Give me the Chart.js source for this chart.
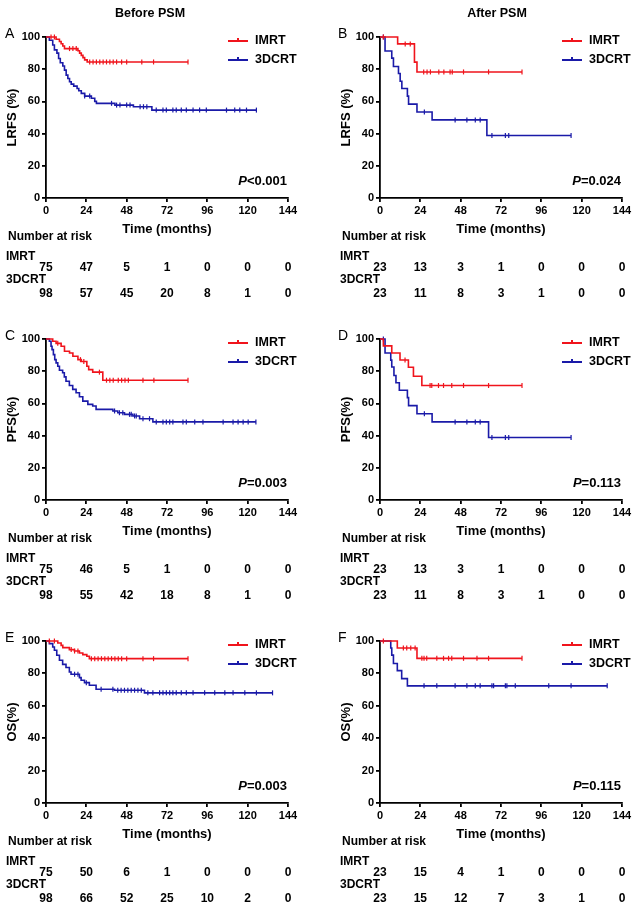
<!DOCTYPE html>
<html><head><meta charset="utf-8">
<script src="https://cdn.jsdelivr.net/npm/chart.js@4.4.1/dist/chart.umd.min.js"></script>
<style>
html,body{margin:0;padding:0;background:#fff;}
#wrap{position:relative;width:640px;height:909px;overflow:hidden;background:#fff;}
.cell{position:absolute;width:320px;}
canvas{display:block;}
</style></head><body>
<div id="wrap">
<div class="cell" style="left:0;top:0"><canvas id="cA" width="320" height="302"></canvas></div>
<div class="cell" style="left:320px;top:0"><canvas id="cB" width="320" height="302"></canvas></div>
<div class="cell" style="left:0;top:302px"><canvas id="cC" width="320" height="302"></canvas></div>
<div class="cell" style="left:320px;top:302px"><canvas id="cD" width="320" height="302"></canvas></div>
<div class="cell" style="left:0;top:604px"><canvas id="cE" width="320" height="305"></canvas></div>
<div class="cell" style="left:320px;top:604px"><canvas id="cF" width="320" height="305"></canvas></div>
</div>
<script>
const FONT = "'Liberation Sans', Arial, sans-serif";
const timeTicks = [0, 24, 48, 72, 96, 120, 144];
const survTicks = [0, 20, 40, 60, 80, 100];
const groups = ['IMRT', '3DCRT'];
const RED = '#f0141c', BLUE = '#1a1aa8';

// Panel A (LRFS, before PSM)
const A_imrtT = [6, 8, 9, 10, 11, 19, 20, 21, 22, 23, 24.5];
const A_imrtS = [98.6, 97.2, 95.8, 94.4, 92.8, 91.5, 90.0, 88.6, 87.2, 85.8, 84.5];
const A_imrtCens = [3, 5, 14, 16, 18, 26, 28, 30, 32, 34, 36, 38, 40, 42, 45, 48, 57, 64, 84.5];
const A_3dT = [2, 4, 5, 6.5, 7.5, 8.5, 10, 11, 12, 13, 14, 15, 16.5, 18.5, 19.5, 21, 23, 27, 29, 30, 41, 52, 63];
const A_3dS = [98, 95, 92, 90, 86.6, 84, 82, 79.4, 76.3, 74.2, 72.2, 70.7, 69.5, 68, 66.6, 65, 63.3, 62, 60, 58.8, 57.7, 56.7, 54.6];
const A_3dCens = [23, 26, 39, 42, 44, 48, 50, 56, 58, 60, 65.6, 69.6, 71.6, 75.5, 77.5, 80.5, 83.5, 87.5, 91.4, 95.4, 107.4, 112.3, 115.3, 119.3, 125.2];
const A_riskIMRT = [75, 47, 5, 1, 0, 0, 0];
const A_risk3D = [98, 57, 45, 20, 8, 1, 0];

// Panel B (LRFS, after PSM)
const B_imrtT = [10.5, 20.5, 22];
const B_imrtS = [95.7, 84.4, 78.3];
const B_imrtCens = [2, 15, 18, 26, 28, 30, 35, 38, 41.7, 43, 49.7, 64.6, 84.5];
const B_3dT = [3, 7, 8, 11, 12, 13, 16.3, 17, 22, 31, 63.6];
const B_3dS = [91.3, 86.9, 81.7, 77.3, 72.5, 68.0, 63.3, 58.3, 53.4, 48.5, 38.8];
const B_3dCens = [2, 26.4, 44.7, 51.7, 56.7, 59.6, 66.6, 74.6, 76.6, 113.7];
const B_riskIMRT = [23, 13, 3, 1, 0, 0, 0];
const B_risk3D = [23, 11, 8, 3, 1, 0, 0];

// Panel C (PFS, before PSM)
const C_imrtT = [4, 6, 9, 11, 14, 16, 19, 21, 24.3, 25.4, 27.8, 33.8];
const C_imrtS = [98.6, 97.3, 95.5, 92.4, 91.3, 89.3, 87.2, 86.0, 83.1, 81.0, 79.4, 74.4];
const C_imrtCens = [7, 20.5, 22.5, 31.8, 36, 38, 40, 43, 45, 47, 49, 57.7, 64.2, 84.5];
const C_3dT = [2, 3, 3.6, 4.4, 5.2, 6, 7, 8, 9.9, 10.9, 11.9, 13.9, 15.9, 17.9, 19.9, 21.9, 24.9, 27.8, 29.8, 39.8, 42.7, 46.7, 51.7, 55.7, 63.6];
const C_3dS = [98.6, 95.5, 93.4, 90.3, 87.2, 85.2, 83.1, 80.6, 79.0, 76.5, 73.8, 71.1, 68.7, 66.6, 64.1, 61.4, 59.4, 58.4, 56.3, 55.3, 54.2, 53.2, 52.2, 50.5, 48.5];
const C_3dCens = [40.8, 43.7, 45.7, 49.7, 50.7, 52.7, 53.7, 57.7, 61.6, 65.6, 69.6, 71.6, 73.6, 75.5, 81.5, 83.5, 88.5, 93.4, 105.4, 111.3, 114.3, 117.3, 120.3, 124.9];
const C_riskIMRT = [75, 46, 5, 1, 0, 0, 0];
const C_risk3D = [98, 55, 42, 18, 8, 1, 0];

// Panel D (PFS, after PSM)
const D_imrtT = [2, 7, 11.9, 16.9, 19.9, 24.9];
const D_imrtS = [95.7, 91.3, 87.0, 82.5, 76.9, 71.1];
const D_imrtCens = [14.9, 29.8, 30.8, 34.8, 37.8, 42.7, 49.7, 64.6, 84.5];
const D_3dT = [3, 6.4, 7, 8.3, 9.5, 11.5, 16.3, 17, 22, 31, 64.6];
const D_3dS = [91.3, 86.9, 82.6, 77.3, 72.8, 68.2, 63.6, 58.6, 53.6, 48.5, 38.8];
const D_3dCens = [2, 26.4, 44.7, 51.7, 56.7, 59.6, 66.6, 74.6, 76.6, 113.7];
const D_riskIMRT = [23, 13, 3, 1, 0, 0, 0];
const D_risk3D = [23, 11, 8, 3, 1, 0, 0];

// Panel E (OS, before PSM)
const E_imrtT = [7, 9, 10, 13.9, 16.9, 19.9, 21.9, 24.3, 25.8];
const E_imrtS = [98.8, 97.3, 95.9, 94.7, 93.8, 92.6, 91.6, 90.6, 89.1];
const E_imrtCens = [2, 5, 15, 17, 19, 27, 29, 31, 33, 35, 37, 39, 41, 43, 45, 48, 57.7, 64, 84.5];
const E_3dT = [2, 4, 5, 6.4, 8, 9.9, 11.9, 13.9, 14.9, 19.9, 20.9, 22.9, 25.8, 29.8, 40.8, 58.6];
const E_3dS = [98.4, 96.3, 94.3, 91.2, 88.1, 85.6, 83.6, 80.9, 79.5, 77.4, 75.8, 74.3, 72.7, 70.2, 69.6, 68.0];
const E_3dCens = [17, 19, 24, 32.8, 39.8, 42.7, 44.7, 46.7, 48.7, 50.7, 52.7, 54.7, 56.7, 60.6, 63.6, 67.6, 69.6, 71.6, 73.6, 75.5, 77.5, 80.5, 83.5, 87.5, 94.4, 100.4, 106.4, 111.3, 118.3, 125.2, 134.8];
const E_riskIMRT = [75, 50, 6, 1, 0, 0, 0];
const E_risk3D = [98, 66, 52, 25, 10, 2, 0];

// Panel F (OS, after PSM)
const F_imrtT = [10.3, 22];
const F_imrtS = [95.7, 89.3];
const F_imrtCens = [2, 13.9, 15.9, 18.3, 20.9, 24.9, 26.2, 27.8, 33.8, 37.8, 40.8, 42.7, 49.7, 57.7, 64.6, 84.5];
const F_3dT = [6.4, 7, 8, 10.3, 12.9, 16.3];
const F_3dS = [95.7, 91.3, 86.1, 81.7, 76.8, 72.3];
const F_3dCens = [26.2, 33.8, 44.7, 51.7, 56.7, 59.6, 66.6, 67.6, 74.6, 75.5, 80.5, 100.4, 113.7, 135.2];
const F_riskIMRT = [23, 15, 4, 1, 0, 0, 0];
const F_risk3D = [23, 15, 12, 7, 3, 1, 0];

const panels = [
  {id:'cA', letter:'A', col:0, row:0, header:'Before PSM', yTitle:'LRFS (%)', p:'<0.001', imrt:[A_imrtT, A_imrtS, A_imrtCens], d3:[A_3dT, A_3dS, A_3dCens], risk:[A_riskIMRT, A_risk3D]},
  {id:'cB', letter:'B', col:1, row:0, header:'After PSM', yTitle:'LRFS (%)', p:'=0.024', imrt:[B_imrtT, B_imrtS, B_imrtCens], d3:[B_3dT, B_3dS, B_3dCens], risk:[B_riskIMRT, B_risk3D]},
  {id:'cC', letter:'C', col:0, row:1, header:null, yTitle:'PFS(%)', p:'=0.003', imrt:[C_imrtT, C_imrtS, C_imrtCens], d3:[C_3dT, C_3dS, C_3dCens], risk:[C_riskIMRT, C_risk3D]},
  {id:'cD', letter:'D', col:1, row:1, header:null, yTitle:'PFS(%)', p:'=0.113', imrt:[D_imrtT, D_imrtS, D_imrtCens], d3:[D_3dT, D_3dS, D_3dCens], risk:[D_riskIMRT, D_risk3D]},
  {id:'cE', letter:'E', col:0, row:2, header:null, yTitle:'OS(%)', p:'=0.003', imrt:[E_imrtT, E_imrtS, E_imrtCens], d3:[E_3dT, E_3dS, E_3dCens], risk:[E_riskIMRT, E_risk3D]},
  {id:'cF', letter:'F', col:1, row:2, header:null, yTitle:'OS(%)', p:'=0.115', imrt:[F_imrtT, F_imrtS, F_imrtCens], d3:[F_3dT, F_3dS, F_3dCens], risk:[F_riskIMRT, F_risk3D]}
];

function survAt(T, S, t) {
  let s = 100;
  for (let i = 0; i < T.length; i++) if (T[i] <= t) s = S[i];
  return s;
}
function stepData(T, S, C) {
  const pts = [{x: 0, y: 100}];
  T.forEach((t, i) => pts.push({x: t, y: S[i]}));
  const end = Math.max(...C, ...T);
  pts.push({x: end, y: survAt(T, S, end)});
  return pts;
}
function censData(T, S, C) {
  return C.map(t => ({x: t, y: survAt(T, S, t)}));
}

function makeChart(p) {
  const canvas = document.getElementById(p.id);
  const H = canvas.height;
  const left = p.col === 0 ? 46 : 60;
  const right = p.col === 0 ? 288 : 302;
  const top = 37;
  const bottom = p.row === 2 ? 199 : 198;
  const padL = p.col === 0 ? 0 : 14;
  const yW = left - padL;
  const xH = 43;
  const padB = H - bottom - xH;
  const padR = 320 - right;
  const tickFont = {family: FONT, size: 11, weight: 'bold'};
  const titleFont = {family: FONT, size: 13, weight: 'bold'};
  const series = [[p.imrt, RED, groups[0]], [p.d3, BLUE, groups[1]]];
  const datasets = [];
  series.forEach(([s, col, lab]) => {
    datasets.push({label: lab, data: stepData(s[0], s[1], s[2]), borderColor: col, backgroundColor: col,
      borderWidth: 1.6, stepped: true, pointRadius: 0, pointHoverRadius: 0, fill: false, clip: false});
    datasets.push({label: lab + ' censored', data: censData(s[0], s[1], s[2]), showLine: false,
      pointStyle: 'line', rotation: 90, pointRadius: 2.5, pointHoverRadius: 2.5, borderColor: col,
      backgroundColor: col, pointBorderWidth: 1.2, borderWidth: 1.2, clip: false});
  });

  const deco = {
    id: 'deco' + p.id,
    afterDraw(chart) {
      const ctx = chart.ctx, ca = chart.chartArea, xs = chart.scales.x;
      ctx.save();
      ctx.fillStyle = '#000';
      ctx.textBaseline = 'middle';
      // panel letter
      ctx.font = `14px ${FONT}`;
      ctx.textAlign = 'left';
      ctx.fillText(p.letter, p.col === 0 ? 5 : 18, 34);
      // column header
      if (p.header) {
        ctx.font = `bold 12.5px ${FONT}`;
        ctx.textAlign = 'center';
        ctx.fillText(p.header, p.col === 0 ? 150 : 177, 14);
      }
      // legend
      series.forEach(([s, col, lab], i) => {
        const y = ca.top + 4 + 19 * i;
        const x0 = ca.right - 60;
        ctx.strokeStyle = col;
        ctx.lineWidth = 2;
        ctx.beginPath();
        ctx.moveTo(x0, y); ctx.lineTo(x0 + 20, y);
        ctx.moveTo(x0 + 10, y - 3); ctx.lineTo(x0 + 10, y + 1);
        ctx.stroke();
        ctx.fillStyle = '#000';
        ctx.font = `bold 12.5px ${FONT}`;
        ctx.textAlign = 'left';
        ctx.fillText(lab, ca.right - 33, y);
      });
      // P value
      const py = ca.bottom - 17;
      ctx.font = `italic bold 13px ${FONT}`;
      const wP = ctx.measureText('P').width;
      ctx.font = `bold 13px ${FONT}`;
      const wR = ctx.measureText(p.p).width;
      const px = ca.right - 1 - wP - wR;
      ctx.textAlign = 'left';
      ctx.font = `italic bold 13px ${FONT}`;
      ctx.fillText('P', px, py);
      ctx.font = `bold 13px ${FONT}`;
      ctx.fillText(p.p, px + wP, py);
      // number at risk table
      ctx.font = `bold 12px ${FONT}`;
      ctx.textAlign = 'left';
      ctx.fillText('Number at risk', ca.left - 38, ca.bottom + 39);
      ctx.fillText(groups[0], ca.left - 40, ca.bottom + 59);
      ctx.fillText(groups[1], ca.left - 40, ca.bottom + 82);
      ctx.textAlign = 'center';
      p.risk.forEach((row, r) => {
        const y = ca.bottom + (r === 0 ? 70 : 96);
        row.forEach((v, i) => {
          ctx.fillText(String(v), xs.getPixelForValue(timeTicks[i]), y);
        });
      });
      ctx.restore();
    }
  };

  return new Chart(canvas, {
    type: 'line',
    data: {datasets},
    options: {
      responsive: false,
      animation: false,
      devicePixelRatio: 1,
      events: [],
      layout: {padding: {left: padL, right: padR, top: top, bottom: padB}},
      plugins: {legend: {display: false}, tooltip: {enabled: false}, title: {display: false}},
      scales: {
        x: {
          type: 'linear', min: 0, max: 144,
          afterBuildTicks: s => { s.ticks = timeTicks.map(v => ({value: v})); },
          afterFit: s => { s.height = xH; },
          ticks: {font: tickFont, color: '#000', padding: 2, maxRotation: 0, autoSkip: false},
          grid: {display: true, drawOnChartArea: false, drawTicks: true, tickLength: 4, color: '#000', lineWidth: 1.8},
          border: {display: true, color: '#000', width: 1.8},
          title: {display: true, text: 'Time (months)', font: titleFont, color: '#000', padding: {top: 0, bottom: 4}}
        },
        y: {
          type: 'linear', min: 0, max: 100,
          afterBuildTicks: s => { s.ticks = survTicks.map(v => ({value: v})); },
          afterFit: s => { s.width = yW; },
          ticks: {font: tickFont, color: '#000', padding: 2, autoSkip: false},
          grid: {display: true, drawOnChartArea: false, drawTicks: true, tickLength: 4, color: '#000', lineWidth: 1.8},
          border: {display: true, color: '#000', width: 1.8},
          title: {display: true, text: p.yTitle, font: titleFont, color: '#000', padding: {top: 5, bottom: 0}}
        }
      }
    },
    plugins: [deco]
  });
}

panels.forEach(makeChart);
</script>
</body></html>
